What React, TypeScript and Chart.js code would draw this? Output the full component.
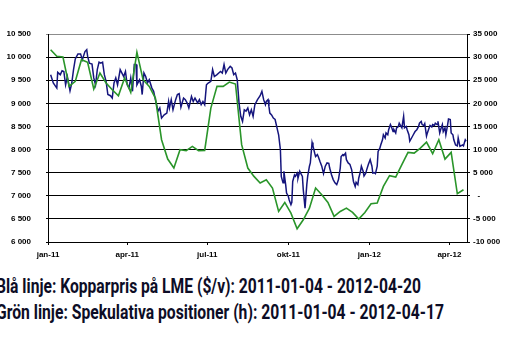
import React, { useEffect, useRef } from 'react';
import { Chart, registerables } from 'chart.js';

Chart.register(...registerables);

// x positions are days since 2011-01-01
const monthTickDays = [0, 90, 181, 273, 365, 456];
const monthTickLabels = ['jan-11', 'apr-11', 'jul-11', 'okt-11', 'jan-12', 'apr-12'];

const leftTickMin = 6000;
const leftTickMax = 10500;
const rightTickMin = -10000;
const rightTickMax = 35000;

// Blue line: copper price on LME ($/t), 2011-01-04 .. 2012-04-20
const blueDays = [
  3, 6, 10, 11, 14, 16, 18, 20, 22, 25, 27, 29, 31, 34, 37, 39, 42, 44, 45, 47,
  50, 52, 54, 56, 58, 60, 62, 64, 66, 68, 71, 73, 75, 77, 79, 82, 84, 86, 88, 90,
  92, 94, 96, 98, 100, 101, 104, 106, 107, 109, 111, 113, 115, 118, 120, 122, 125, 127, 129, 132,
  135, 137, 138, 140, 142, 145, 147, 149, 151, 154, 156, 158, 160, 163, 165, 167, 170, 172, 174, 176,
  178, 180, 182, 185, 187, 189, 192, 194, 196, 198, 200, 202, 204, 207, 209, 211, 213, 215, 217, 219,
  221, 223, 225, 227, 229, 231, 233, 235, 238, 241, 243, 245, 247, 248, 250, 251, 252, 254, 256, 258,
  259, 261, 262, 264, 265, 266, 267, 268, 270, 271, 273, 274, 276, 277, 278, 280, 281, 283, 284, 286,
  287, 289, 290, 292, 294, 295, 297, 298, 300, 301, 303, 304, 306, 307, 309, 311, 313, 315, 317, 319,
  320, 322, 324, 326, 328, 330, 332, 333, 335, 336, 338, 339, 341, 343, 345, 347, 349, 350, 352, 353,
  355, 356, 358, 359, 361, 362, 364, 366, 368, 369, 371, 372, 374, 375, 377, 378, 380, 381, 383, 384,
  386, 387, 389, 390, 392, 393, 395, 396, 398, 399, 401, 402, 404, 405, 407, 408, 410, 411, 413, 415,
  417, 419, 421, 422, 424, 425, 427, 428, 430, 431, 433, 434, 436, 437, 439, 440, 442, 443, 445, 446,
  448, 449, 451, 452, 454, 455, 457, 458, 460, 461, 463, 465, 466, 468, 469, 471, 472, 474, 475,
];
const blueValues = [
  9620, 9440, 9330, 9670, 9620, 9705, 9690, 9400, 9580, 9270, 9440, 9730, 9960, 10070, 10070, 9945, 10120, 10160, 10020, 9870,
  9850, 9550, 9400, 9730, 9890, 9870, 9890, 9620, 9475, 9190, 9165, 9115, 9440, 9550, 9400, 9730, 9655, 9580, 9690, 9400,
  9330, 9550, 9260, 9840, 9840, 9400, 9510, 9370, 9190, 9655, 9580, 9440, 9510, 9330, 9260, 9080, 8830, 8900, 8680, 8750,
  8790, 9040, 8900, 9080, 8860, 9080, 9190, 9210, 8920, 9115, 9080, 9010, 8900, 9150, 9040, 9115, 9010, 9080, 8970, 9040,
  8970, 9400, 9440, 9475, 9730, 9580, 9620, 9655, 9690, 9655, 9840, 9655, 9730, 9800, 9765, 9620, 9655, 9510, 9010, 8720,
  8610, 8860, 8830, 8900, 8750, 8860, 8720, 8970, 9080, 9165, 9260, 9080, 8970, 9040, 9080, 8930, 8790, 8750, 8680, 8650,
  8650, 8400, 8320, 8000, 7420, 7350, 7280, 7530, 7240, 7060, 6990, 6910, 6810, 6860, 7310, 7450, 7420, 7490, 7380, 7530,
  7490, 7420, 7130, 6730, 7240, 7420, 7640, 7710, 8155, 8080, 7920, 7850, 7890, 7850, 7740, 7640, 7480, 7640, 7710, 7700,
  7600, 7460, 7350, 7280, 7240, 7350, 7600, 7850, 7890, 7870, 7920, 7780, 7710, 7680, 7560, 7310, 7200, 7290, 7240, 7380,
  7530, 7640, 7530, 7430, 7490, 7560, 7680, 7780, 7640, 7490, 7500, 7480, 7640, 7960, 8030, 8100, 8210, 8320, 8250, 8360,
  8320, 8430, 8540, 8500, 8390, 8430, 8360, 8470, 8500, 8570, 8500, 8470, 8720, 8470, 8500, 8430, 8320, 8180, 8250, 8320,
  8390, 8430, 8500, 8570, 8610, 8540, 8520, 8560, 8290, 8360, 8470, 8520, 8490, 8540, 8520, 8570, 8540, 8610, 8360, 8430,
  8540, 8390, 8470, 8320, 8540, 8660, 8650, 8360, 8320, 8210, 8100, 8080, 8250, 8070, 8080, 8100, 8080, 8210, 8180,
];

// Green line: speculative positions (right axis), weekly 2011-01-04 .. 2012-04-17
const greenDays = [
  3, 10, 17, 24, 31, 38, 45, 52, 59, 66, 73, 80, 87, 94, 101, 108, 115, 122, 129, 136,
  143, 150, 157, 164, 171, 178, 185, 192, 199, 206, 213, 220, 227, 234, 241, 248, 255, 262, 269, 276,
  283, 290, 297, 304, 311, 318, 325, 332, 339, 346, 353, 360, 367, 374, 381, 388, 395, 402, 409, 416,
  423, 430, 437, 444, 451, 458, 465, 472,
];
const greenValues = [
  31610, 30170, 30020, 23670, 24750, 29440, 28870, 23100, 26560, 24390, 22950, 21650, 25480, 22370, 31030, 25120, 23670, 21150, 12130, 7940,
  6000, 9960, 9750, 10690, 9750, 9820, 18980, 23670, 23670, 24610, 24180, 11050, 6000, 4190, 2750, 3470, 1670, -3390, -1440, -3750,
  -7140, -5190, -2670, 1670, 230, -1440, -4470, -3390, -2670, -3600, -5050, -3600, -1720, -1580, 2030, 4340, 4050, 6720, 9390, 9240,
  10320, 11620, 9100, 12130, 7940, 9390, 440, 1300,
];

const captionLines = [
  'Blå linje: Kopparpris på LME ($/v): 2011-01-04 - 2012-04-20',
  'Grön linje: Spekulativa positioner (h): 2011-01-04 - 2012-04-17',
];

const fmtNumber = (v: number) => {
  if (v === 0) return '  -';
  const s = Math.abs(v).toString().replace(/\B(?=(\d{3})+(?!\d))/g, ' ');
  return (v < 0 ? '-' : '') + s;
};

const tickFont = { family: '"Liberation Sans", Arial, sans-serif', size: 8, weight: 'bold' as const };

export default function App() {
  const canvasRef = useRef<HTMLCanvasElement>(null);
  const capRefs = [useRef<HTMLSpanElement>(null), useRef<HTMLSpanElement>(null)];

  useEffect(() => {
    const chart = new Chart(canvasRef.current!, {
      type: 'line',
      data: {
        datasets: [
          {
            label: 'Spekulativa positioner',
            data: greenDays.map((d, i) => ({ x: d, y: greenValues[i] })),
            yAxisID: 'y2',
            borderColor: '#2a952a',
            borderWidth: 1.6,
            pointRadius: 0,
            tension: 0,
            order: 1,
          },
          {
            label: 'Kopparpris',
            data: blueDays.map((d, i) => ({ x: d, y: blueValues[i] })),
            yAxisID: 'y',
            borderColor: '#15157d',
            borderWidth: 1.5,
            pointRadius: 0,
            tension: 0,
            order: 2,
          },
        ],
      },
      options: {
        animation: false,
        responsive: false,
        maintainAspectRatio: false,
        layout: { padding: { top: 34, left: 0, right: 0, bottom: 0 } },
        plugins: { legend: { display: false }, tooltip: { enabled: false } },
        scales: {
          x: {
            type: 'linear',
            min: 0,
            max: 476,
            afterBuildTicks: (s: any) => {
              s.ticks = monthTickDays.map((v) => ({ value: v }));
            },
            afterFit: (s: any) => {
              s.height = 20;
            },
            ticks: {
              autoSkip: false,
              maxRotation: 0,
              padding: 5,
              color: '#000',
              font: tickFont,
              callback: (v: any) => {
                const i = monthTickDays.indexOf(Number(v));
                return i >= 0 ? monthTickLabels[i] : '';
              },
            },
            grid: { drawOnChartArea: false, tickLength: 3, color: '#000' },
            border: { color: '#000', width: 1 },
          },
          y: {
            position: 'left',
            min: leftTickMin,
            max: leftTickMax,
            afterFit: (s: any) => {
              s.width = 48;
            },
            ticks: { stepSize: 500, padding: 15, color: '#000', font: tickFont, callback: (v: any) => fmtNumber(Number(v)) },
            grid: {
              tickLength: 2,
              lineWidth: 1,
              color: (ctx: any) => (ctx.tick && ctx.tick.value === leftTickMax ? '#8c8c8c' : '#000'),
            },
            border: { color: '#000', width: 1 },
          },
          y2: {
            position: 'right',
            min: rightTickMin,
            max: rightTickMax,
            afterFit: (s: any) => {
              s.width = 60;
            },
            ticks: { stepSize: 5000, padding: 3, color: '#000', font: tickFont, callback: (v: any) => fmtNumber(Number(v)) },
            grid: { drawOnChartArea: false, tickLength: 3, color: '#000' },
            border: { color: '#000', width: 1 },
          },
        },
      },
    } as any);

    const targets = [425, 448];
    capRefs.forEach((r, i) => {
      const el = r.current;
      if (!el) return;
      el.style.transform = 'none';
      const w = el.getBoundingClientRect().width;
      if (w > 0) el.style.transform = `scaleX(${targets[i] / w})`;
    });

    return () => chart.destroy();
  }, []);

  const capStyle: React.CSSProperties = {
    position: 'absolute',
    left: -4,
    whiteSpace: 'nowrap',
    display: 'inline-block',
    transformOrigin: '0 0',
    fontFamily: '"Liberation Sans Narrow", "Roboto", "Liberation Sans", sans-serif',
    fontWeight: 'bold',
    fontSize: 19.5,
    lineHeight: '18px',
    color: '#0d0d26',
  };

  return (
    <div style={{ position: 'fixed', left: 0, top: 0, width: 527, height: 361, background: '#fff', overflow: 'hidden' }}>
      <canvas ref={canvasRef} width={527} height={262} style={{ display: 'block', width: 527, height: 262 }} />
      <span ref={capRefs[0]} style={{ ...capStyle, top: 278.3 }}>{captionLines[0]}</span>
      <span ref={capRefs[1]} style={{ ...capStyle, top: 304.3 }}>{captionLines[1]}</span>
    </div>
  );
}
